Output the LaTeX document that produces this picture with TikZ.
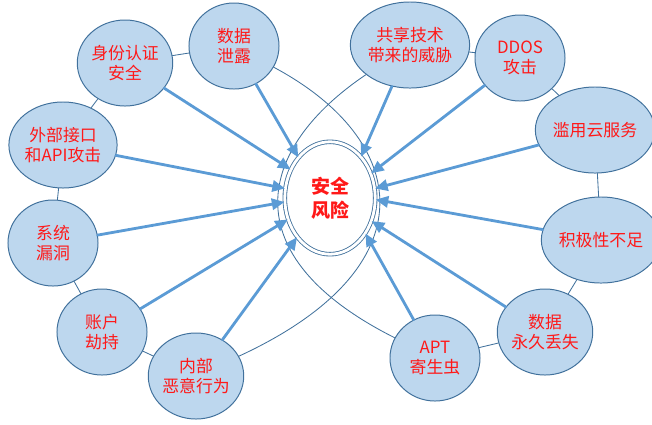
\documentclass[tikz,border=0pt]{standalone}
\usepackage{fontspec}
\usepackage{tikz}
\usetikzlibrary{arrows.meta,shapes.geometric}
\newfontfamily\cjk{Noto Sans CJK SC}
\definecolor{bddxee}{rgb}{0.741,0.843,0.933}
\definecolor{urxrzc}{rgb}{0.255,0.443,0.612}
\definecolor{vbzbdv}{rgb}{0.357,0.608,0.835}
\definecolor{ffqqqq}{rgb}{1,0.1,0.1}
\begin{document}
\begin{tikzpicture}[line cap=round,line join=round,>={Triangle[length=9pt,width=8pt]},x=0.025cm,y=-0.025cm,
	threat/.style={ellipse,draw=urxrzc,fill=bddxee,line width=0.7pt,minimum width=2.25cm,minimum height=2.15cm,inner sep=0pt,align=center,text=ffqqqq,font=\cjk\fontsize{12}{14.5}\selectfont},
	core/.style={ellipse,draw=urxrzc,double,double distance=2pt,line width=0.6pt,minimum width=2.26cm,minimum height=2.81cm,inner sep=0pt,align=center,text=ffqqqq,font=\cjk\bfseries\fontsize{13.5}{17}\selectfont},
	ring/.style={draw=urxrzc,line width=0.6pt},
	hit/.style={->,draw=vbzbdv,fill=vbzbdv,line width=2pt}]
	\useasboundingbox (0,0) rectangle (652,424);
	\node[core] (risk) at (330,198) {安全\\风险};
	\node[threat] (leak) at (234,46) {数据\\泄露};
	\node[threat] (identity) at (125,63) {身份认证\\安全};
	\node[threat] (api) at (63,145) {外部接口\\和API攻击};
	\node[threat] (vuln) at (53,243) {系统\\漏洞};
	\node[threat] (hijack) at (102,332) {账户\\劫持};
	\node[threat] (insider) at (196,376) {内部\\恶意行为};
	\node[threat] (share) at (410,45) {共享技术\\带来的威胁};
	\node[threat] (ddos) at (520,58) {DDOS\\攻击};
	\node[threat] (cloud) at (595,130) {滥用云服务};
	\node[threat] (neglect) at (601,240) {积极性不足};
	\node[threat] (loss) at (545,332) {数据\\永久丢失};
	\node[threat] (apt) at (435,358) {APT\\寄生虫};
	\draw[ring] (identity) -- (leak);
	\draw[ring] (identity) -- (api);
	\draw[ring] (api) -- (vuln);
	\draw[ring] (vuln) -- (hijack);
	\draw[ring] (hijack) -- (insider);
	\draw[ring] (share) -- (ddos);
	\draw[ring] (ddos) -- (cloud);
	\draw[ring] (cloud) -- (neglect);
	\draw[ring] (neglect) -- (loss);
	\draw[ring] (loss) -- (apt);
	\draw[ring] (leak) .. controls (410,140) and (432,267) .. (insider);
	\draw[ring] (share) .. controls (257,148) and (230,255) .. (apt);
	\draw[hit] (leak) -- (risk.128);
	\draw[hit] (identity) -- (risk.144);
	\draw[hit] (api) -- (risk.168);
	\draw[hit] (vuln) -- (risk.185);
	\draw[hit] (hijack) -- (risk.207);
	\draw[hit] (insider) -- (risk.230);
	\draw[hit] (share) -- (risk.53);
	\draw[hit] (ddos) -- (risk.31);
	\draw[hit] (cloud) -- (risk.12);
	\draw[hit] (neglect) -- (risk.358);
	\draw[hit] (loss) -- (risk.331);
	\draw[hit] (apt) -- (risk.315);
\end{tikzpicture}
\end{document}
